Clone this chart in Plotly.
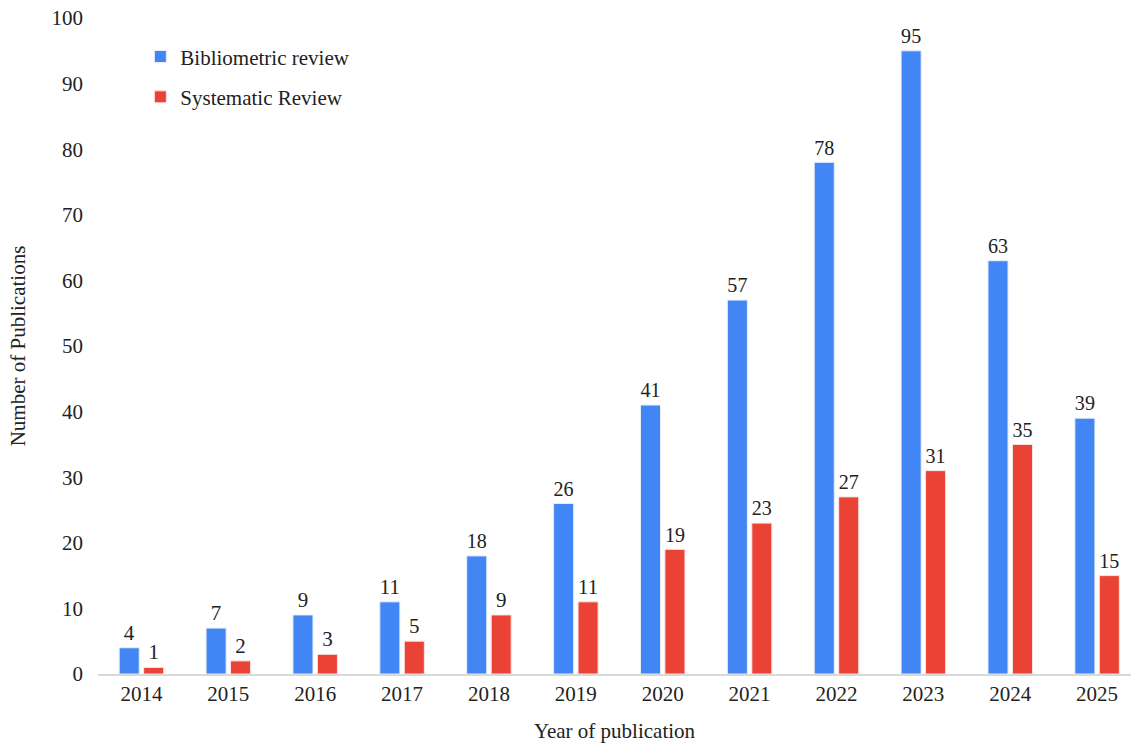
import plotly.graph_objects as go

years = ["2014", "2015", "2016", "2017", "2018", "2019", "2020", "2021", "2022", "2023", "2024", "2025"]
bibliometric = [4, 7, 9, 11, 18, 26, 41, 57, 78, 95, 63, 39]
systematic = [1, 2, 3, 5, 9, 11, 19, 23, 27, 31, 35, 15]
y_ticks = [0, 10, 20, 30, 40, 50, 60, 70, 80, 90, 100]

FONT = "Liberation Serif"
FS = 21
TXT = "#222222"

fig = go.Figure()
fig.add_trace(go.Bar(
    x=years, y=bibliometric, name="Bibliometric review", legendgroup="a",
    marker=dict(color="#4285F4", line=dict(color="#E8EEF9", width=1)),
    text=bibliometric, textposition="outside", cliponaxis=False,
    textfont=dict(family=FONT, size=FS, color=TXT),
))
fig.add_trace(go.Bar(
    x=years, y=systematic, name="Systematic Review", legendgroup="b",
    marker=dict(color="#EA4335", line=dict(color="#F9E4E2", width=1)),
    text=systematic, textposition="outside", cliponaxis=False,
    textfont=dict(family=FONT, size=FS, color=TXT),
))

fig.update_layout(
    width=1131, height=744,
    margin=dict(l=98, r=0, t=18, b=70),
    paper_bgcolor="white", plot_bgcolor="white",
    font=dict(family=FONT, size=FS, color=TXT),
    barmode="group", bargap=0.437, bargroupgap=0.18,
    showlegend=True,
    legend=dict(x=0.041, y=0.972, xanchor="left", yanchor="top",
                font=dict(family=FONT, size=FS, color=TXT),
                tracegroupgap=10, itemwidth=30, bgcolor="rgba(0,0,0,0)"),
    xaxis=dict(
        type="category", range=[-0.5, 11.39],
        showline=True, linecolor="#D9D9D9", linewidth=2,
        ticks="", showgrid=False,
        tickfont=dict(family=FONT, size=FS, color=TXT),
        title=dict(text="Year of publication", font=dict(family=FONT, size=FS, color=TXT), standoff=18),
    ),
    yaxis=dict(
        range=[0, 100], tickvals=y_ticks,
        showline=False, showgrid=False, zeroline=False, ticks="",
        ticklabelstandoff=14,
        tickfont=dict(family=FONT, size=FS, color=TXT),
        title=dict(text="Number of Publications", font=dict(family=FONT, size=FS, color=TXT), standoff=20),
    ),
)

fig.write_html("out.html")
